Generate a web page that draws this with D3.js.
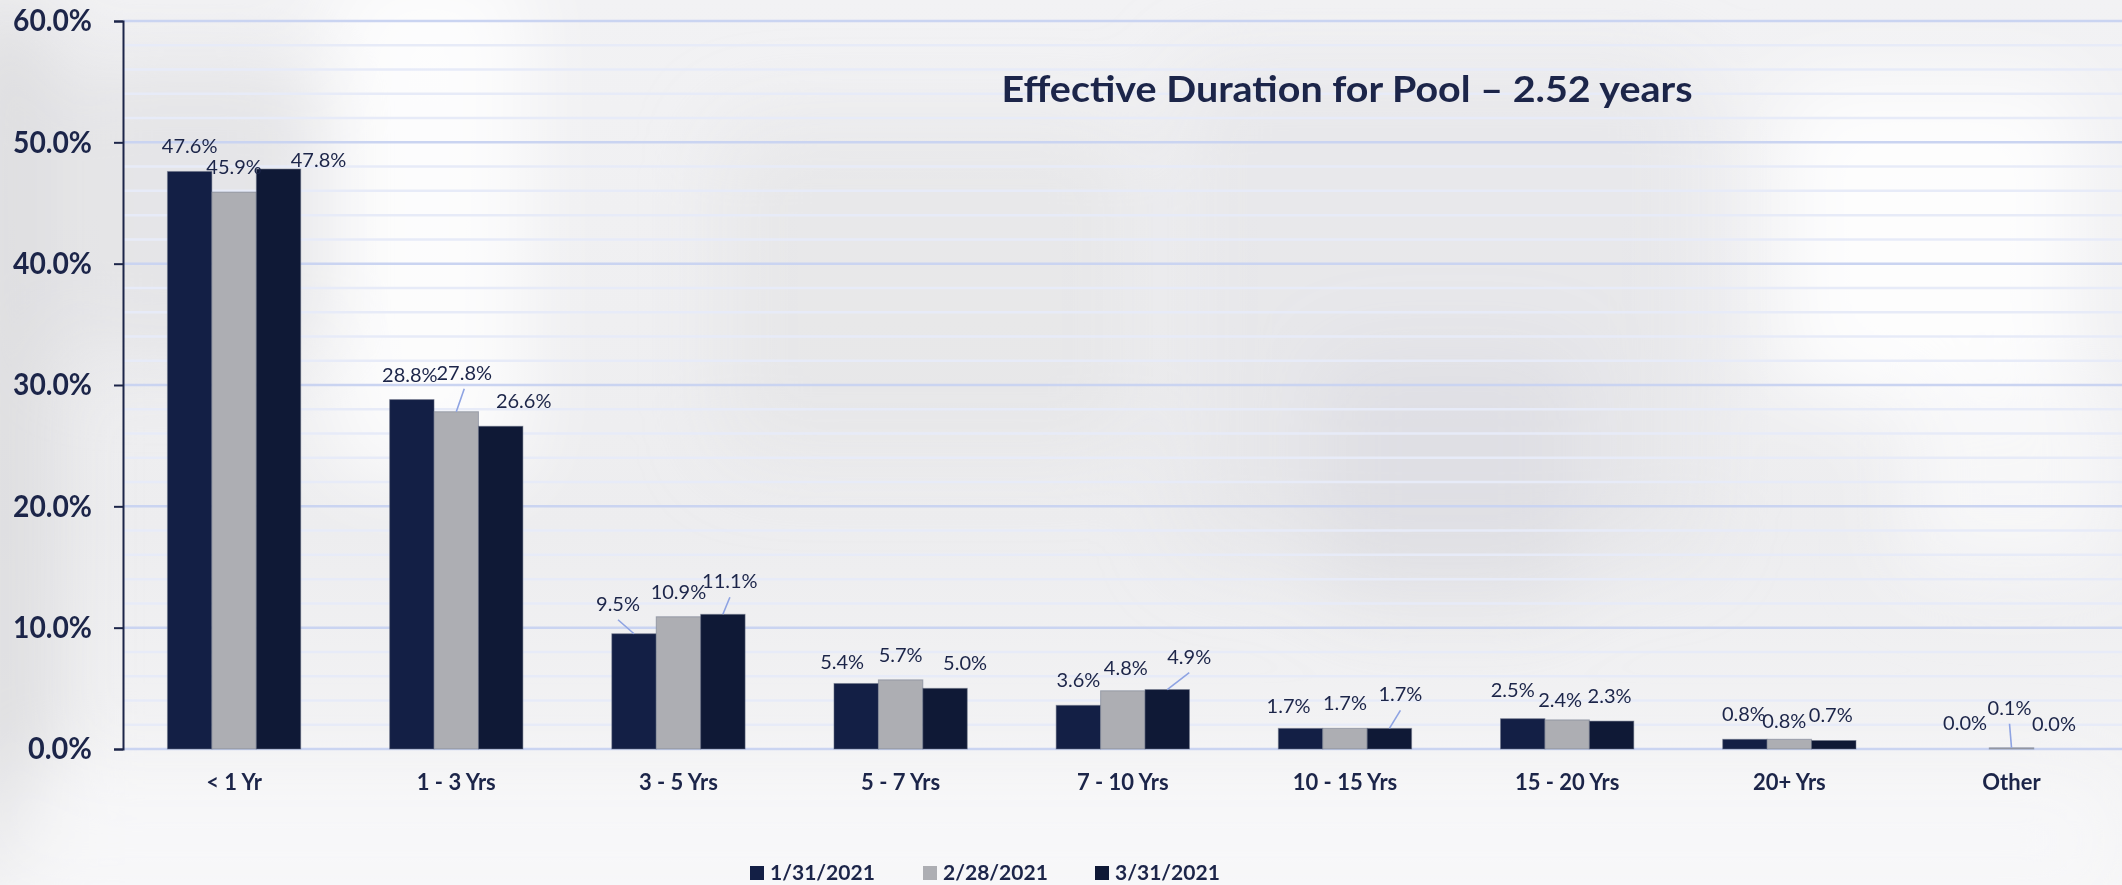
<!DOCTYPE html>
<html>
<head>
<meta charset="utf-8">
<script src="https://cdn.jsdelivr.net/npm/d3@7"></script>
<style>
  html, body { margin: 0; padding: 0; overflow: hidden; }
  svg { display: block; font-family: Lato, "Open Sans", sans-serif; }
</style>
</head>
<body>
<div id="chart"></div>
<script>
var categories = ["< 1 Yr", "1 - 3 Yrs", "3 - 5 Yrs", "5 - 7 Yrs", "7 - 10 Yrs", "10 - 15 Yrs", "15 - 20 Yrs", "20+ Yrs", "Other"];
var seriesNames = ["1/31/2021", "2/28/2021", "3/31/2021"];
// percent values, one array per month
var jan = [47.6, 28.8, 9.5, 5.4, 3.6, 1.7, 2.5, 0.8, 0.0];
var feb = [45.9, 27.8, 10.9, 5.7, 4.8, 1.7, 2.4, 0.8, 0.1];
var mar = [47.8, 26.6, 11.1, 5.0, 4.9, 1.7, 2.3, 0.7, 0.0];
var yTicks = [0, 10, 20, 30, 40, 50, 60];
var title = "Effective Duration for Pool \u2013 2.52 years";

var colors = ["#131f45", "#adaeb3", "#0f1936"];
var navy = "#1c2549";

// hand nudges for the data labels (like excel's dragged labels), [dx, dy, leader]
var nudges = [
  [[0, 0], [0, 0], [40, 16]],
  [[-2, 0], [8, -14, 1], [23, 0]],
  [[-16, -5, 1], [0, 0], [7, -8, 1]],
  [[-14, 4], [0, 0], [20, 0]],
  [[0, 0], [3, 2], [22, -8, 1]],
  [[-12, 3], [0, 0], [11, -9, 1]],
  [[-10, -4], [-7, 5], [-2, 0]],
  [[-1, 0], [-5, 7], [-3, -1]],
  [[-2, -1], [-2, -15, 1], [-2, 0]]
];

var W = 2122, H = 885;
var margin = {left: 123, right: 0, top: 21, bottom: 136};

var svg = d3.select("#chart").append("svg")
  .attr("width", W)
  .attr("height", H);

// ---- background, a blurry grey photo look
var defs = svg.append("defs");
defs.append("filter").attr("id", "blur")
  .attr("x", "-50%").attr("y", "-50%").attr("width", "200%").attr("height", "200%")
  .append("feGaussianBlur").attr("stdDeviation", 40);
var bg = defs.append("linearGradient").attr("id", "bgGrad")
  .attr("x1", 0).attr("y1", 0).attr("x2", 0).attr("y2", 1);
bg.append("stop").attr("offset", "0").attr("stop-color", "#f2f2f4");
bg.append("stop").attr("offset", "0.6").attr("stop-color", "#ededef");
bg.append("stop").attr("offset", "1").attr("stop-color", "#f6f6f7");

svg.append("rect").attr("width", W).attr("height", H).attr("fill", "url(#bgGrad)");

var blobs = svg.append("g").attr("filter", "url(#blur)");
var blobList = [
  {x: -40, y: 0, w: 90, h: 885, c: "#d9d9dc", o: 0.9},
  {x: 60, y: 60, w: 260, h: 300, c: "#e2e2e5", o: 0.8},
  {x: 330, y: -40, w: 200, h: 520, c: "#ffffff", o: 0.8},
  {x: 720, y: 120, w: 420, h: 340, c: "#e2e2e5", o: 0.6},
  {x: 1180, y: 60, w: 520, h: 500, c: "#e3e3e6", o: 0.6},
  {x: 1320, y: 350, w: 260, h: 260, c: "#d8d8dc", o: 0.45},
  {x: 1780, y: 80, w: 300, h: 320, c: "#ffffff", o: 0.85},
  {x: 1900, y: 380, w: 222, h: 200, c: "#f9f9fa", o: 0.8},
  {x: 0, y: 770, w: 2122, h: 140, c: "#f7f7f8", o: 0.9}
];
blobs.selectAll("rect").data(blobList).enter().append("rect")
  .attr("x", function(d) { return d.x; })
  .attr("y", function(d) { return d.y; })
  .attr("width", function(d) { return d.w; })
  .attr("height", function(d) { return d.h; })
  .attr("rx", 40)
  .attr("fill", function(d) { return d.c; })
  .attr("opacity", function(d) { return d.o; });

// ---- scales
var x0 = d3.scaleBand().domain(categories).range([margin.left, W - margin.right + 0.6]);
var x1 = d3.scaleBand().domain([0, 1, 2]).range([x0.bandwidth() * 0.2, x0.bandwidth() * 0.8]);
var y = d3.scaleLinear().domain([0, 60]).range([H - margin.bottom, margin.top]);

// minor gridlines every 2%
var minor = d3.range(2, 60, 2).filter(function(v) { return v % 10 !== 0; });
svg.append("g").selectAll("line").data(minor).enter().append("line")
  .attr("x1", margin.left).attr("x2", W)
  .attr("y1", function(d) { return y(d); }).attr("y2", function(d) { return y(d); })
  .attr("stroke", "#e7ebf8").attr("stroke-width", 2.5);

// major gridlines
svg.append("g").selectAll("line").data(yTicks).enter().append("line")
  .attr("x1", margin.left).attr("x2", W)
  .attr("y1", function(d) { return y(d); }).attr("y2", function(d) { return y(d); })
  .attr("stroke", "#cad4f1").attr("stroke-width", 2.5);

// ---- bars
var rows = categories.map(function(c, i) {
  return {cat: c, vals: [jan[i], feb[i], mar[i]], idx: i};
});

var groups = svg.append("g").selectAll("g").data(rows).enter().append("g")
  .attr("transform", function(d) { return "translate(" + x0(d.cat) + ",0)"; });

groups.selectAll("rect").data(function(d) { return d.vals; }).enter().append("rect")
  .attr("x", function(d, j) { return x1(j); })
  .attr("y", function(d) { return y(d); })
  .attr("width", x1.bandwidth())
  .attr("height", function(d) { return y(0) - y(d); })
  .attr("fill", function(d, j) { return colors[j]; })
  .attr("stroke", "#6b7488")
  .attr("stroke-opacity", 0.5)
  .attr("stroke-width", 1);

// ---- data labels with leader lines
var labels = [];
rows.forEach(function(r) {
  r.vals.forEach(function(v, j) {
    var n = nudges[r.idx][j];
    var cx = x0(r.cat) + x1(j) + x1.bandwidth() / 2;
    var top = y(v);
    labels.push({v: v, bx: cx, by: top, lx: cx + n[0], ly: top - 18 + n[1], leader: !!n[2]});
  });
});

svg.append("g").selectAll("line").data(labels.filter(function(d) { return d.leader; }))
  .enter().append("line")
  .attr("x1", function(d) { return d.lx; })
  .attr("y1", function(d) { return d.ly + 9; })
  .attr("x2", function(d) { return d.bx; })
  .attr("y2", function(d) { return d.by; })
  .attr("stroke", "#8ea3e2").attr("stroke-width", 1.6);

svg.append("g").selectAll("text").data(labels).enter().append("text")
  .attr("x", function(d) { return d.lx; })
  .attr("y", function(d) { return d.ly; })
  .attr("text-anchor", "middle")
  .attr("font-size", 20)
  .attr("fill", navy)
  .text(function(d) { return d.v.toFixed(1) + "%"; });

// ---- y axis
var yAxis = d3.axisLeft(y).tickValues(yTicks).tickSize(9).tickPadding(22)
  .tickFormat(function(d) { return d.toFixed(1) + "%"; });
var ya = svg.append("g").attr("transform", "translate(" + margin.left + ",0)").call(yAxis);
ya.select(".domain").attr("stroke", navy).attr("stroke-width", 2);
ya.selectAll(".tick line").attr("stroke", navy).attr("stroke-width", 2);
ya.selectAll(".tick text")
  .attr("fill", navy)
  .attr("font-family", "Lato, sans-serif")
  .attr("font-size", 31)
  .attr("font-weight", "bold")
  .attr("textLength", function(d) { return d === 0 ? 64 : 79; })
  .attr("lengthAdjust", "spacingAndGlyphs");

// ---- x axis labels
var xAxis = d3.axisBottom(x0).tickSize(0).tickPadding(25);
var xa = svg.append("g").attr("transform", "translate(0," + y(0) + ")").call(xAxis);
xa.select(".domain").remove();
xa.selectAll(".tick text")
  .attr("fill", navy)
  .attr("font-family", "Lato, sans-serif")
  .attr("font-size", 22)
  .attr("font-weight", "bold");

// ---- title
svg.append("text")
  .attr("x", 1347).attr("y", 102)
  .attr("text-anchor", "middle")
  .attr("font-size", 36)
  .attr("font-weight", "bold")
  .attr("fill", navy)
  .attr("textLength", 691)
  .attr("lengthAdjust", "spacingAndGlyphs")
  .text(title);

// ---- legend
var legendX = [750, 923, 1095];
var lg = svg.append("g").selectAll("g").data(seriesNames).enter().append("g")
  .attr("transform", function(d, i) { return "translate(" + legendX[i] + ",866)"; });
lg.append("rect").attr("width", 14).attr("height", 14)
  .attr("fill", function(d, i) { return colors[i]; });
lg.append("text").attr("x", 20).attr("y", 14)
  .attr("font-size", 21).attr("font-weight", "bold").attr("fill", navy)
  .text(function(d) { return d; });
</script>
</body>
</html>
